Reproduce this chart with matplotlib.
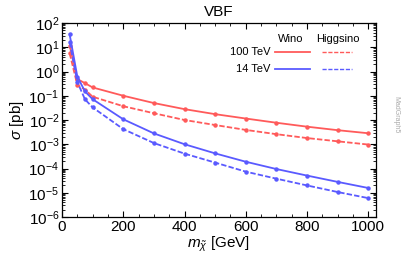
#!/usr/bin/env python3
"""VBF chargino pair cross sections, Wino vs Higgsino"""

import matplotlib
matplotlib.use('Agg')
import matplotlib.pyplot as plt
from matplotlib.ticker import LogLocator, MultipleLocator, NullFormatter

mass = [25, 50, 75, 100, 200, 300, 400, 500, 600, 700, 800, 900, 1000]

wino_100 = [11.6, 0.49, 0.33, 0.22, 0.10, 0.050, 0.028, 0.0174, 0.0115,
            0.0077, 0.0053, 0.0038, 0.00284]
higgsino_100 = [5.6, 0.28, 0.18, 0.091, 0.037, 0.019, 0.010, 0.0062, 0.0039,
                0.0026, 0.0018, 0.00132, 0.00097]
wino_14 = [33.6, 0.62, 0.15, 0.072, 0.0107, 0.0028, 0.0010, 4.2e-4, 1.9e-4,
           9.5e-5, 5.1e-5, 2.8e-5, 1.57e-5]
higgsino_14 = [16.0, 0.37, 0.071, 0.033, 0.0042, 0.00112, 4.1e-4, 1.75e-4,
               7.4e-5, 3.8e-5, 2.0e-5, 1.07e-5, 6.0e-6]

RED = '#ff5a5a'
BLUE = '#5a5aff'

plt.rcParams['font.family'] = ['Liberation Sans', 'DejaVu Sans']
plt.rcParams['mathtext.fontset'] = 'custom'
plt.rcParams['mathtext.rm'] = 'Liberation Sans'
plt.rcParams['mathtext.it'] = 'Liberation Sans:italic'

fig = plt.figure(figsize=(4.07, 2.62), dpi=100)
ax = fig.add_axes([62 / 407, 1 - 217 / 262, (376 - 62) / 407, (217 - 23) / 262])

series = [
    (wino_100, RED, '-'),
    (higgsino_100, RED, '--'),
    (wino_14, BLUE, '-'),
    (higgsino_14, BLUE, '--'),
]
for vals, col, ls in series:
    ax.plot(mass, vals, color=col, ls=ls, lw=1.3, marker='o', ms=2.2,
            dashes=(3, 1.2) if ls == '--' else (None, None))

ax.set_yscale('log')
ax.set_xlim(0, 1025)
ax.set_ylim(1e-6, 1e2)
ax.xaxis.set_major_locator(MultipleLocator(200))
ax.xaxis.set_minor_locator(MultipleLocator(50))
ax.yaxis.set_major_locator(LogLocator(base=10, numticks=20))
ax.yaxis.set_minor_locator(LogLocator(base=10, subs=range(2, 10), numticks=20))
ax.yaxis.set_minor_formatter(NullFormatter())
ax.tick_params(which='both', direction='in', top=True, right=True,
               labelsize=11, pad=2, colors='black')
ax.tick_params(which='major', length=4, width=0.8)
ax.tick_params(which='minor', length=2, width=0.6)
for sp in ax.spines.values():
    sp.set_linewidth(0.9)

ax.set_title('VBF', fontsize=11, pad=5)
ax.set_xlabel(r'$m_{\tilde{\chi}}$ [GeV]', fontsize=11, labelpad=1)
ax.set_ylabel(r'$\sigma$ [pb]', fontsize=11, labelpad=2)

# hand-made legend table
tr = ax.transAxes
def ax_xy(px, py):
    return (px - 62) / 314, (217 - py) / 194

ax.text(*ax_xy(291, 39), 'Wino', transform=tr, fontsize=8, ha='center', va='center')
ax.text(*ax_xy(338, 39), 'Higgsino', transform=tr, fontsize=8, ha='center', va='center')
for py, label, col in [(52, '100 TeV', RED), (69, '14 TeV', BLUE)]:
    ax.text(*ax_xy(270, py), label, transform=tr, fontsize=8, ha='right', va='center')
    x0, y0 = ax_xy(275, py)
    x1, _ = ax_xy(310, py)
    ax.plot([x0, x1], [y0, y0], transform=tr, color=col, lw=1.3)
    x0, _ = ax_xy(322, py)
    x1, _ = ax_xy(352, py)
    ax.plot([x0, x1], [y0, y0], transform=tr, color=col, lw=1.0, dashes=(3, 1.2))

fig.text(396 / 407, 1 - 115 / 262, 'MadGraph5', rotation=-90, fontsize=5,
         color='#aaaaaa', ha='center', va='center')

fig.savefig('out.png', dpi=100)
